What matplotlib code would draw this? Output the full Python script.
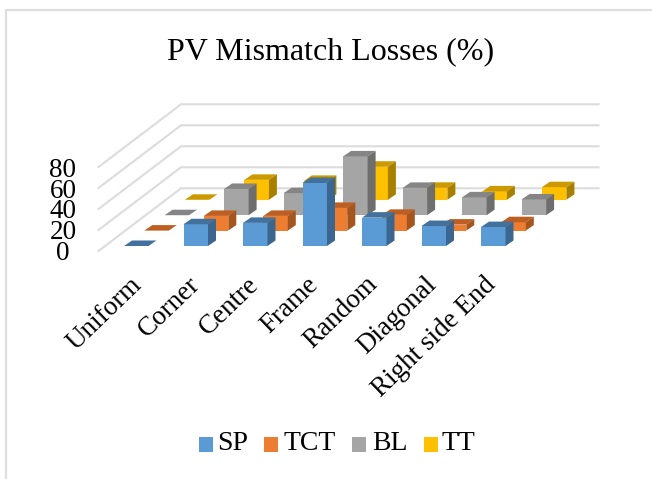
import matplotlib
matplotlib.use("Agg")
import matplotlib.pyplot as plt
from matplotlib.patches import Polygon, Rectangle

categories = ["Uniform", "Corner", "Centre", "Frame", "Random", "Diagonal", "Right side End"]
series_names = ["SP", "TCT", "BL", "TT"]
SP = [0, 20.7, 22, 60, 27, 19, 18]
TCT = [0, 14, 14, 21.6, 15, 5.7, 8]
BL = [0, 25, 21, 56, 26, 17, 15]
TT = [0, 19, 18, 31.5, 11.4, 8, 12]
series_values = [SP, TCT, BL, TT]
axis_ticks = [0, 20, 40, 60, 80]

front = ["#5B9BD5", "#ED7D31", "#A5A5A5", "#FFC000"]
top = ["#41719C", "#BE5E21", "#858585", "#CC9A00"]
side = ["#3A6690", "#A5561F", "#6E6E6E", "#A88000"]
grid = "#DCDCDC"

plt.rcParams["font.family"] = ["Liberation Serif", "DejaVu Serif"]
fig = plt.figure(figsize=(6.52, 4.79), dpi=100)
ax = fig.add_axes([0, 0, 1, 1])
ax.set_xlim(0, 652)
ax.set_ylim(479, 0)
ax.axis("off")

X0, Y0 = 124.0, 246.0      # front-left foot of first SP bar
CAT_DX = 59.5              # spacing between categories
ROW_DX, ROW_DY = 20.3, -15.4  # shift per series row
BAR_W = 24.5
BAR_DX, BAR_DY = 8.0, -5.5
UNIT = 1.05                # px per value unit


def draw_bar(c, r, v):
    x = X0 + c * CAT_DX + r * ROW_DX
    yb = Y0 + r * ROW_DY
    yt = yb - v * UNIT
    if v > 0:
        ax.add_patch(Polygon([(x, yb), (x + BAR_W, yb), (x + BAR_W, yt), (x, yt)],
                             fc=front[r], ec="none", zorder=3))
    ax.add_patch(Polygon([(x, yt), (x + BAR_W, yt), (x + BAR_W + BAR_DX, yt + BAR_DY),
                          (x + BAR_DX, yt + BAR_DY)], fc=top[r], ec="none", zorder=3))
    if v > 0:
        ax.add_patch(Polygon([(x + BAR_W, yb), (x + BAR_W + BAR_DX, yb + BAR_DY),
                              (x + BAR_W + BAR_DX, yt + BAR_DY), (x + BAR_W, yt)],
                             fc=side[r], ec="none", zorder=3))


# walls / gridlines
for t in axis_ticks:
    h = t * UNIT
    ax.plot([98.5, 181, 598.5], [251 - h, 188.3 - h, 188.3 - h], color=grid, lw=1.5,
            solid_joinstyle="miter", zorder=1)
    ax.text(63, 260 - t * 1.04, str(t), ha="center", va="baseline", fontsize=19.5, color="black")

# bars back to front
for r in range(len(series_names) - 1, -1, -1):
    for c, v in enumerate(series_values[r]):
        draw_bar(c, r, v)

# category labels
for c, name in enumerate(categories):
    ax.text(X0 + 5 + c * 59.0, 272, name, rotation=44, ha="right", va="top",
            rotation_mode="anchor", fontsize=19.5, color="black")

ax.text(331, 52, "PV Mismatch Losses (%)", ha="center", va="center", fontsize=23, color="black")

# legend
leg_x = [199, 264, 352, 424]
txt_x = [217, 284, 372, 442]
for col, lx, tx, name in zip(front, leg_x, txt_x, series_names):
    ax.add_patch(Rectangle((lx, 437), 13.5, 15, fc=col, ec="none"))
    ax.text(tx, 450, name, ha="left", va="baseline", fontsize=20, color="black")

# outer frame of the screenshot
ax.plot([5.5, 5.5, 652], [479, 9.7, 9.7], color="#DEDEDE", lw=1.6, solid_joinstyle="miter")

fig.savefig("out.png", dpi=100)
